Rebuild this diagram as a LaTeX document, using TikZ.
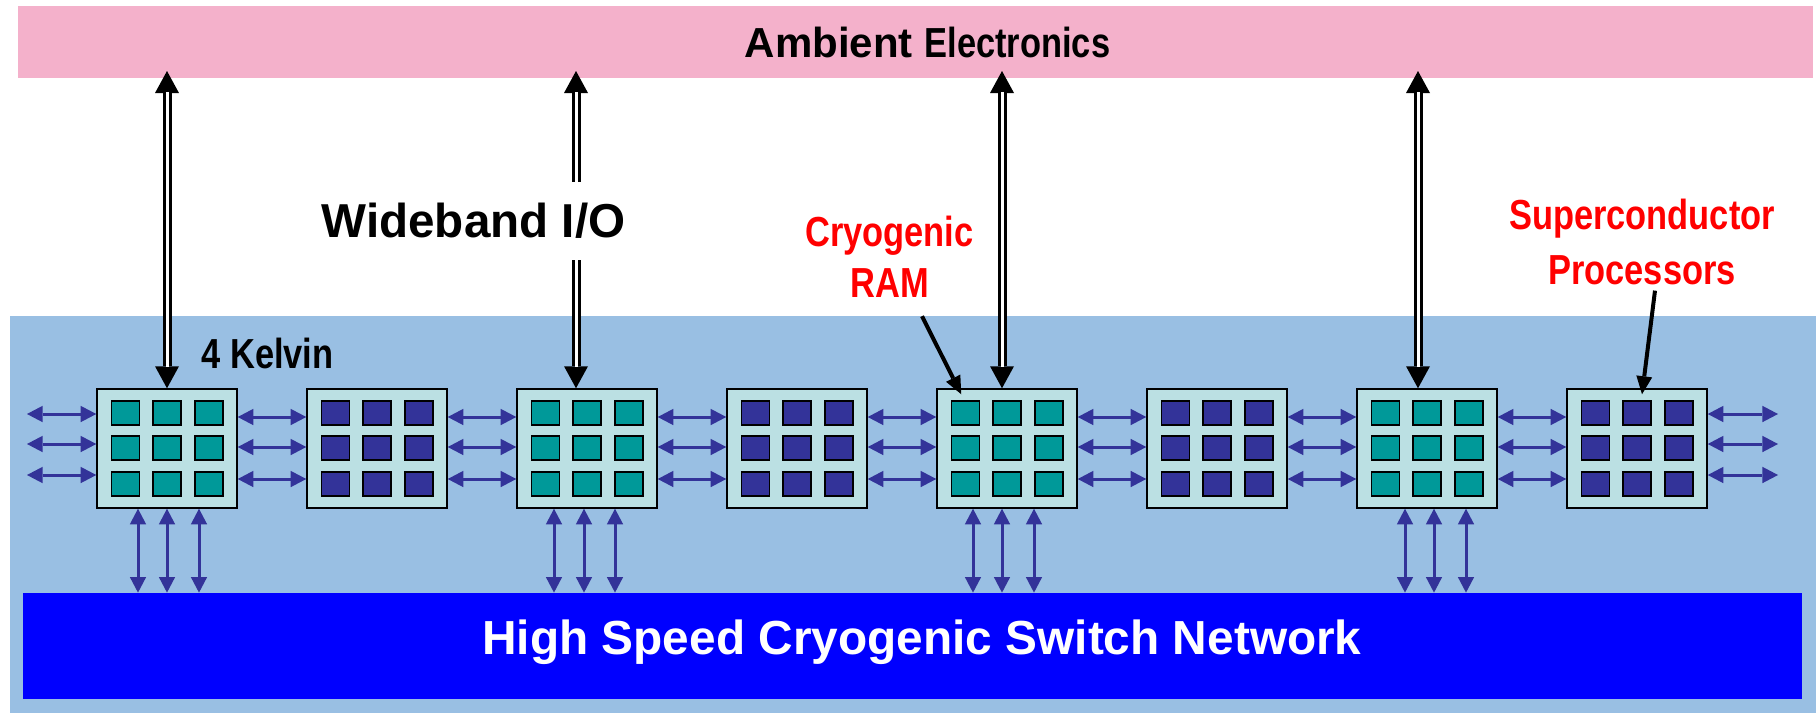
\documentclass[tikz,border=0pt]{standalone}
\usepackage{fontspec}
\setmainfont{Liberation Sans}
\newfontfamily\narrowfont{Liberation Sans}[FakeStretch=0.82]
\usetikzlibrary{arrows.meta,calc}
\definecolor{pinkbar}{RGB}{244,177,203}
\definecolor{coldbg}{RGB}{153,191,227}
\definecolor{netblue}{RGB}{0,0,255}
\definecolor{chipfill}{RGB}{187,224,227}
\definecolor{tealsq}{RGB}{0,153,153}
\definecolor{navysq}{RGB}{51,51,153}
\definecolor{linkcol}{RGB}{51,51,153}
\definecolor{labelred}{RGB}{255,0,0}
\begin{document}
\begin{tikzpicture}[x=0.5pt,y=-0.5pt,
  chip/.style={draw=black, line width=0.75pt, fill=chipfill, minimum width=70pt, minimum height=59.5pt, inner sep=0},
  tcell/.style={draw=black, line width=0.65pt, fill=tealsq, minimum width=14pt, minimum height=12pt, inner sep=0},
  ncell/.style={tcell, fill=navysq},
  link/.style={draw=linkcol, line width=1.5pt, {Triangle[width=8.2pt,length=7.8pt,line width=0pt]}-{Triangle[width=8.2pt,length=7.8pt,line width=0pt]}},
  ioouter/.style={draw=black, line width=4.5pt, {Triangle[width=12pt,length=11pt,line width=0pt]}-{Triangle[width=12pt,length=11pt,line width=0pt]}},
  ioinner/.style={draw=white, line width=1.5pt, shorten <=10.5pt, shorten >=10.5pt},
  pointer/.style={draw=black, line width=2pt, -{Triangle[width=8pt,length=9pt,line width=0pt]}},
  bigtxt/.style={font=\fontsize{23.8}{28}\selectfont\bfseries, inner sep=0},
  midtxt/.style={font=\fontsize{21}{25}\selectfont\bfseries, inner sep=0},
  narrowtxt/.style={font=\fontsize{21}{25.5}\selectfont\narrowfont\bfseries, inner sep=0, align=center},
]
\useasboundingbox (0,0) rectangle (1816,713);
% cold region
\fill[coldbg] (10,316) rectangle (1816,713);
% bars
\node[fill=pinkbar, minimum width=897.5pt, minimum height=36pt, inner sep=0] (amb) at (915.5,42) {};
\node[fill=netblue, minimum width=889.5pt, minimum height=53pt, inner sep=0] (net) at (912.5,646) {};
\node[midtxt] (ambt) at (927.5,42) {Ambient {\narrowfont Electronics}};
\node[bigtxt, text=white, font=\fontsize{23.9}{28}\selectfont\bfseries] (nett) at (922,642) {High Speed Cryogenic Switch Network};
% chips
\foreach \i in {0,...,7} {
  \node[chip] (c\i) at (167+210*\i,448.5) {};
}
\foreach \i in {0,2,4,6} {
  \foreach \dx in {-41.5,0,42} {
    \foreach \dy in {-35.5,-0.5,35.5} {
      \node[tcell] at ([shift={(\dx,\dy)}]c\i) {};
    }
  }
}
\foreach \i in {1,3,5,7} {
  \foreach \dx in {-41.5,0,42} {
    \foreach \dy in {-35.5,-0.5,35.5} {
      \node[ncell] at ([shift={(\dx,\dy)}]c\i) {};
    }
  }
}
% horizontal links
\foreach \i/\j in {0/1,1/2,2/3,3/4,4/5,5/6,6/7} {
  \foreach \d in {-31.5,-1.5,30.5} {
    \draw[link] ([shift={(0,\d)}]c\i.east) -- ([shift={(0,\d)}]c\j.west);
  }
}
\coordinate (ledge) at (27,448.5);
\coordinate (redge) at (1778,448.5);
\foreach \d in {-34.5,-4.5,26.5} {
  \draw[link] ([shift={(0,\d)}]ledge) -- ([shift={(0,\d)}]c0.west);
  \draw[link] ([shift={(0,\d)}]c7.east) -- ([shift={(0,\d)}]redge);
}
% vertical links to the switch network
\foreach \c/\dl/\dm/\dr in {0/-29/0/32, 2/-33/-3/28, 4/-34/-5/27, 6/-22/7/39} {
  \foreach \d in {\dl,\dm,\dr} {
    \path (c\c.south) ++(\d,0) coordinate (vt);
    \draw[link] (vt) -- (vt |- net.north);
  }
}
% wideband I/O arrows
\coordinate (io0) at (167,71);
\coordinate (io2) at (576,71);
\coordinate (io4) at (1002,71);
\coordinate (io6) at (1418,71);
\foreach \c in {0,2,4,6} {
  \draw[ioouter] (io\c) -- (io\c |- c\c.north);
  \draw[ioinner] (io\c) -- (io\c |- c\c.north);
}
\node[bigtxt, fill=white, minimum height=39pt] (wio) at (473.5,221) {Wideband I/O};
% labels
\node[narrowtxt] (kel) at (267.5,353) {4 Kelvin};
\node[narrowtxt, text=labelred, anchor=north] (cram) at (889.5,216) {Cryogenic\\RAM};
\node[narrowtxt, text=labelred, anchor=north, font=\fontsize{21}{27.5}\selectfont\narrowfont\bfseries] (sproc) at (1642,199) {Superconductor\\Processors};
% pointers
\draw[pointer] ($(cram.south)+(32.5,18)$) -- ($(c4.north west)+(25,6)$);
\draw[pointer] ($(sproc.south)+(13,5)$) -- ($(c7.north)+(5,6)$);
\end{tikzpicture}
\end{document}
